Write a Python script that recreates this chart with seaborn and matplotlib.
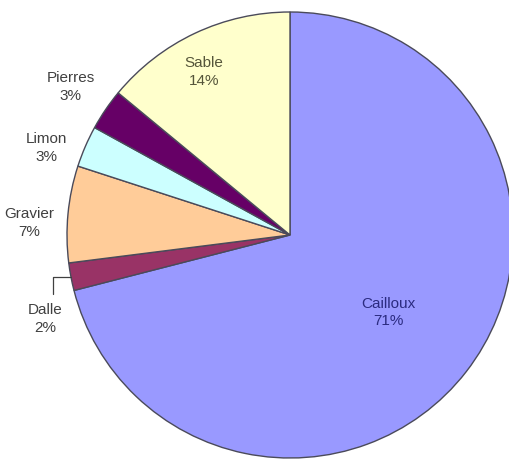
import matplotlib
matplotlib.use("Agg")
import matplotlib.pyplot as plt
import numpy as np
import seaborn as sns

sns.set_style("white")
plt.rcParams["font.family"] = ["Liberation Sans", "DejaVu Sans"]

# Composition of the substrate (percent), clockwise from 12 o'clock
categories = ["Cailloux", "Dalle", "Gravier", "Limon", "Pierres", "Sable"]
values = [71, 2, 7, 3, 3, 14]
colors = ["#9999FF", "#993366", "#FFCC99", "#CCFFFF", "#660066", "#FFFFCC"]

# label placement: radial distance and angular nudge (degrees) per slice
label_radius = [0.56, 1.16, 1.17, 1.16, 1.19, 0.83]
label_nudge = [0, 8, 2.5, 3.5, 0, 2.5]
label_colors = ["#2b2b80", "#404040", "#404040", "#404040", "#404040", "#55553a"]

W, H, DPI = 510, 460, 100
fig = plt.figure(figsize=(W / DPI, H / DPI), dpi=DPI)
cx, cy, r = 290, 236, 223   # pie centre (pixels from top-left) and radius
ax = fig.add_axes([(cx - r) / W, (H - cy - r) / H, 2 * r / W, 2 * r / H])
ax.set_axis_off()

wedges, _ = ax.pie(
    values,
    colors=colors,
    startangle=90,
    counterclock=False,
    radius=1.0,
    wedgeprops=dict(edgecolor="#4a4a5a", linewidth=1.0),
)
for w in wedges:
    w.set_clip_on(False)
ax.set_xlim(-1, 1)
ax.set_ylim(-1, 1)
ax.set_aspect("equal")

for w, name, v, rad, nudge, tc in zip(wedges, categories, values,
                                      label_radius, label_nudge, label_colors):
    mid = np.deg2rad((w.theta1 + w.theta2) / 2 + nudge)
    x, y = rad * np.cos(mid), rad * np.sin(mid)
    ax.text(x, y, f"{name}\n{v}%", ha="center", va="center", fontsize=11,
            color=tc, linespacing=1.35, clip_on=False)
    if name == "Dalle":
        # leader from the slice edge down to its label
        emid = np.deg2rad((w.theta1 + w.theta2) / 2)
        ex, ey = np.cos(emid), np.sin(emid)
        ax.plot([ex, x + 0.035, x + 0.035], [ey, ey, y + 0.11],
                color="#404040", lw=0.9, clip_on=False)

fig.savefig("out.png", dpi=DPI, facecolor="white")
